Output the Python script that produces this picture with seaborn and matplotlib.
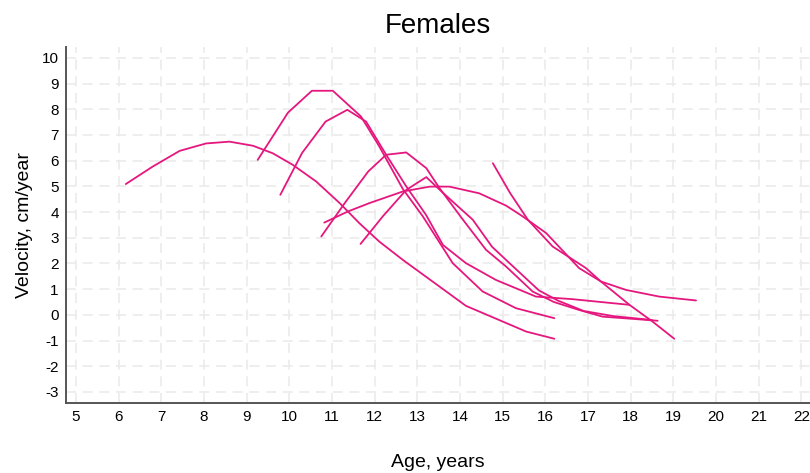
import pandas as pd
import matplotlib
matplotlib.use("Agg")
from matplotlib import pyplot as plt
import seaborn as sns

# growth velocity curves, one per girl (age in years, velocity in cm/year)
age_a = [6.17, 6.80, 7.43, 8.05, 8.60, 9.15, 9.61, 10.08, 10.63, 11.18, 11.64, 12.11, 12.66, 13.52, 14.14, 15.55, 16.21]
vel_a = [5.09, 5.77, 6.38, 6.67, 6.74, 6.58, 6.29, 5.84, 5.19, 4.35, 3.57, 2.85, 2.14, 1.10, 0.35, -0.65, -0.93]

age_b = [9.26, 9.97, 10.53, 11.02, 11.68, 12.11, 12.66, 13.13, 13.83, 14.53, 15.31, 16.21]
vel_b = [6.03, 7.87, 8.72, 8.72, 7.72, 6.55, 4.90, 3.83, 2.01, 0.91, 0.26, -0.13]

age_c = [9.79, 10.30, 10.85, 11.36, 11.80, 12.27, 12.74, 13.20, 13.60, 14.14, 14.84, 15.78, 16.64, 17.30, 17.97]
vel_c = [4.67, 6.30, 7.52, 7.98, 7.52, 6.23, 5.00, 3.90, 2.72, 2.01, 1.36, 0.71, 0.61, 0.50, 0.39]

age_d = [10.75, 11.30, 11.85, 12.27, 12.74, 13.21, 13.52, 14.07, 14.61, 15.08, 15.70, 16.20, 16.79, 17.34, 18.00, 18.63]
vel_d = [3.05, 4.35, 5.58, 6.23, 6.32, 5.71, 4.93, 3.70, 2.53, 1.88, 0.91, 0.50, 0.19, -0.07, -0.15, -0.23]

age_e = [11.67, 12.20, 12.74, 13.21, 13.60, 14.30, 14.75, 15.20, 15.85, 16.30, 16.90, 17.60, 18.50]
vel_e = [2.76, 3.85, 4.86, 5.36, 4.75, 3.70, 2.65, 1.95, 0.95, 0.55, 0.15, -0.05, -0.20]

age_f = [10.82, 11.37, 11.88, 12.66, 13.29, 13.75, 14.45, 15.08, 15.47, 16.02, 16.79, 17.30, 17.89, 18.67, 19.53]
vel_f = [3.59, 4.02, 4.35, 4.80, 4.99, 4.99, 4.73, 4.25, 3.83, 3.18, 1.82, 1.30, 0.97, 0.71, 0.56]

age_g = [14.77, 15.17, 15.59, 16.17, 16.95, 17.30, 17.97, 18.51, 19.02]
vel_g = [5.90, 4.75, 3.70, 2.66, 1.82, 1.30, 0.39, -0.26, -0.93]

curves = {"a": (age_a, vel_a), "b": (age_b, vel_b), "c": (age_c, vel_c), "d": (age_d, vel_d),
          "e": (age_e, vel_e), "f": (age_f, vel_f), "g": (age_g, vel_g)}

rows = []
for name, (ages, vels) in curves.items():
    for x, y in zip(ages, vels):
        rows.append({"girl": name, "Age": x, "Velocity": y})
df = pd.DataFrame(rows)

sns.set_style("white")
plt.rcParams["font.family"] = ["Liberation Sans Narrow", "Liberation Sans", "DejaVu Sans"]
plt.rcParams["axes.unicode_minus"] = False
plt.rcParams["text.color"] = "black"
plt.rcParams["axes.labelcolor"] = "black"
plt.rcParams["xtick.color"] = "black"
plt.rcParams["ytick.color"] = "black"

fig = plt.figure(figsize=(8.1, 4.73), dpi=100)
ax = fig.add_axes([0.081, 0.148, 0.919, 0.753])

sns.lineplot(data=df, x="Age", y="Velocity", units="girl", estimator=None, sort=False,
             color="#E5177E", linewidth=1.3, ax=ax)

ax.set_xlim(4.76, 22.2)
ax.set_ylim(-3.43, 10.43)
ax.set_xticks(range(5, 23))
ax.set_yticks(range(-3, 11))
ax.grid(True, color="#ebebeb", linestyle=(0, (6, 4)), linewidth=1.2)
ax.set_axisbelow(True)
ax.tick_params(length=0, labelsize=11, pad=5)

for side in ["top", "right"]:
    ax.spines[side].set_visible(False)
for side in ["left", "bottom"]:
    ax.spines[side].set_color("#555555")
    ax.spines[side].set_linewidth(1.4)

ax.set_title("Females", fontsize=20, pad=10)
ax.set_xlabel("Age, years", fontsize=14, labelpad=22)
ax.set_ylabel("Velocity, cm/year", fontsize=14, labelpad=6)

fig.savefig("out.png", dpi=100)
